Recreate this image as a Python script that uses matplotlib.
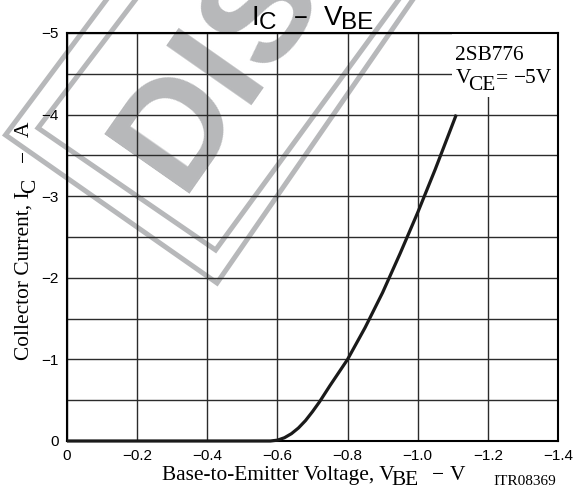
import matplotlib
matplotlib.use("Agg")
import matplotlib.pyplot as plt
from matplotlib.patches import Rectangle
from matplotlib.lines import Line2D

# IC - VBE curve of 2SB776
vbe = [0.0, -0.58, -0.60, -0.62, -0.64, -0.66, -0.68, -0.70, -0.72, -0.75,
       -0.80, -0.85, -0.90, -0.95, -1.00, -1.05, -1.11]
ic = [0.0, 0.0, -0.01, -0.04, -0.09, -0.16, -0.25, -0.36, -0.48, -0.68,
      -1.0, -1.39, -1.82, -2.30, -2.80, -3.33, -4.0]

xticks = [0, -0.2, -0.4, -0.6, -0.8, -1.0, -1.2, -1.4]
xtick_labels = ["0", "\u22120.2", "\u22120.4", "\u22120.6", "\u22120.8",
                "\u22121.0", "\u22121.2", "\u22121.4"]
yticks = [0, -1, -2, -3, -4, -5]
ytick_labels = ["0", "\u22121", "\u22122", "\u22123", "\u22124", "\u22125"]
ygrid_minor = [-0.5, -1.5, -2.5, -3.5, -4.5]

W, H = 573, 491
SANS = "Liberation Sans"
SERIF = "Liberation Serif"
GRAY = "#b7b8ba"
LAB = 15.4

plt.rcParams["font.family"] = SANS

fig = plt.figure(figsize=(W / 100, H / 100), dpi=100)
fig.patch.set_facecolor("white")
renderer = fig.canvas.get_renderer()


def put(x, y, s, size, family=SERIF, rot=0, **kw):
    # x, y in image pixels (origin top-left), y is the baseline
    return fig.text(x / W, 1 - y / H, s, fontsize=size, family=family,
                    ha="left", va="baseline", rotation=rot,
                    rotation_mode="anchor", **kw)


def chain(x, y, parts, size, family=SERIF, rot=0):
    # parts: (text, baseline shift down, gap before in px)
    pos = x if rot == 0 else y
    for s, shift, gap in parts:
        if rot == 0:
            pos += gap
            t = put(pos, y + shift, s, size, family)
            pos += t.get_window_extent(renderer).width
        else:
            pos -= gap
            t = put(x + shift, pos, s, size, family, rot=90)
            pos -= t.get_window_extent(renderer).height


# "DISCONTINUED"-style stamp in the background
put(180, 193, "DIS", 108, family=SANS, rot=55, color=GRAY,
    fontweight="bold", zorder=-5)
frame_outer = [(110, -5), (5.5, 135), (217, 283), (416, -5)]
frame_inner = [(139, -5), (38, 128), (215.6, 250), (402, -5)]
for pts in (frame_outer, frame_inner):
    xs = [p[0] / W for p in pts]
    ys = [1 - p[1] / H for p in pts]
    fig.add_artist(Line2D(xs, ys, transform=fig.transFigure, color=GRAY,
                          lw=3.6, solid_joinstyle="miter", zorder=-5))

ax = fig.add_axes([67 / W, 1 - 441 / H, 491 / W, 408 / H])
ax.set_facecolor("none")
ax.set_xlim(0, -1.4)
ax.set_ylim(0, -5)
ax.set_xticks(xticks)
ax.set_xticklabels(xtick_labels)
ax.set_yticks(yticks)
ax.set_yticklabels(ytick_labels)
ax.set_yticks(ygrid_minor, minor=True)
ax.grid(True, which="both", color="#2b2b2b", lw=1.0)
ax.tick_params(which="both", length=0, labelsize=11, colors="black")
ax.tick_params(axis="x", pad=6)
ax.tick_params(axis="y", pad=6)
for sp in ax.spines.values():
    sp.set_linewidth(1.5)
    sp.set_color("black")

ax.plot(vbe, ic, color="#1a1a1a", lw=2.3, clip_on=False, zorder=3,
        solid_capstyle="butt")

# white label box over the grid
ax.add_patch(Rectangle((0.784, 0.843), 0.216, 0.157, transform=ax.transAxes,
                       facecolor="white", edgecolor="none", zorder=2))
put(455, 60, "2SB776", LAB)
chain(456, 83.3, [("V", 0, 0), ("CE", 6.7, -3), ("=", 0, 0), ("\u22125V", 0, 6)], LAB)

# title
put(251, 25, "I", 20, family=SANS)
put(258.5, 29, "C", 17.5, family=SANS)
put(294, 25, "\u2212", 17, family=SANS)
put(324, 25, "V", 20, family=SANS)
put(341, 29, "BE", 17.5, family=SANS)

# x label
chain(161.7, 480, [("Base-to-Emitter Voltage, V", 0, 0), ("BE", 5, -3)], LAB)
put(431.7, 480, "\u2212", LAB)
put(450, 480, "V", LAB)
put(493.3, 485, "ITR08369", 11)

# y label
chain(28.5, 360, [("Collector Current, I", 0, 0), ("C", 7, -2)], LAB, rot=90)
put(28.5, 161.7, "\u2212", LAB, rot=90)
put(28.5, 136.7, "A", LAB, rot=90)

fig.savefig("out.png", dpi=100)
